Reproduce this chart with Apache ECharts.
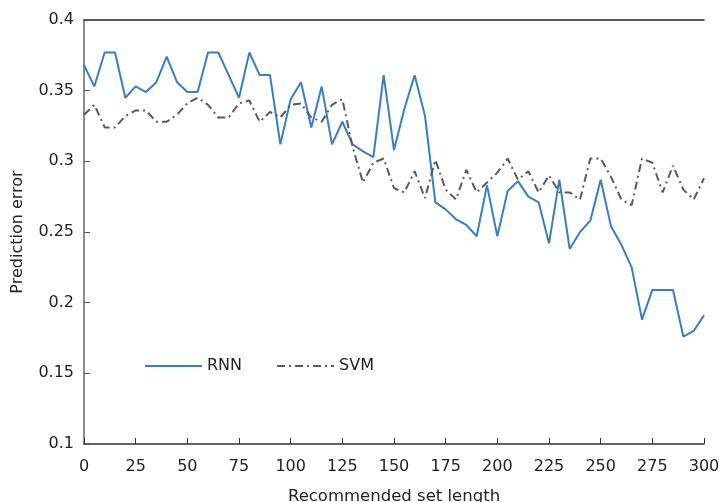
<!DOCTYPE html>
<html>
<head>
<meta charset="utf-8">
<script src="https://cdn.jsdelivr.net/npm/echarts@6/dist/echarts.min.js"></script>
<style>html,body{margin:0;padding:0;background:#fff}#c{width:719px;height:502px}</style>
</head>
<body>
<div id="c"></div>
<script>
const setLengths = [0,5,10,15,20,25,30,35,40,45,50,55,60,65,70,75,80,85,90,95,100,105,110,115,120,125,130,135,140,145,150,155,160,165,170,175,180,185,190,195,200,205,210,215,220,225,230,235,240,245,250,255,260,265,270,275,280,285,290,295,300];
const rnnError = [0.368,0.353,0.377,0.377,0.345,0.353,0.349,0.356,0.374,0.356,0.349,0.349,0.377,0.377,0.361,0.345,0.377,0.361,0.361,0.312,0.344,0.356,0.324,0.353,0.312,0.328,0.312,0.307,0.303,0.361,0.308,0.337,0.361,0.332,0.271,0.266,0.259,0.255,0.247,0.283,0.247,0.279,0.286,0.275,0.271,0.242,0.287,0.238,0.250,0.258,0.287,0.254,0.241,0.225,0.188,0.209,0.209,0.209,0.176,0.180,0.191];
const svmError = [0.333,0.340,0.324,0.324,0.332,0.336,0.336,0.328,0.328,0.333,0.341,0.345,0.340,0.331,0.331,0.341,0.343,0.328,0.335,0.331,0.340,0.341,0.331,0.328,0.340,0.344,0.310,0.285,0.299,0.302,0.281,0.278,0.293,0.274,0.301,0.280,0.273,0.294,0.278,0.285,0.292,0.302,0.287,0.293,0.278,0.290,0.278,0.278,0.273,0.302,0.302,0.289,0.273,0.269,0.302,0.299,0.278,0.297,0.280,0.273,0.288];
const seriesNames = ['RNN','SVM'];
const xName = 'Recommended set length';
const yName = 'Prediction error';

const font = '"DejaVu Sans", Verdana, sans-serif';
const chart = echarts.init(document.getElementById('c'), null, {renderer:'canvas'});
const pairs = arr => setLengths.map((x,i)=>[x, arr[i]]);
chart.setOption({
  animation:false,
  backgroundColor:'#fff',
  grid:{left:84,right:15,top:20,bottom:58,containLabel:false,outerBoundsMode:'none'},
  legend:{
    left:139, top:353, itemWidth:57, itemHeight:14, itemGap:34,
    itemStyle:{opacity:0},
    textStyle:{fontFamily:font,fontSize:16,color:'#222'},
    data:seriesNames
  },
  xAxis:[{
    type:'value', min:0, max:300, interval:25,
    name:xName, nameLocation:'middle', nameGap:44,
    nameTextStyle:{fontFamily:font,fontSize:16.5,color:'#222'},
    axisLine:{show:true,lineStyle:{color:'#333',width:1.5}},
    axisTick:{show:true,inside:true,length:6,lineStyle:{color:'#333'}},
    axisLabel:{fontFamily:font,fontSize:16,color:'#222',margin:15},
    splitLine:{show:false}
  },{
    type:'value', position:'top', min:0, max:300,
    axisLine:{show:true,lineStyle:{color:'#222',width:1.5}},
    axisTick:{show:false}, axisLabel:{show:false}, splitLine:{show:false}
  }],
  yAxis:[{
    type:'value', min:0.1, max:0.4, interval:0.05,
    name:yName, nameLocation:'middle', nameGap:58,
    nameTextStyle:{fontFamily:font,fontSize:16,color:'#222'},
    axisLine:{show:true,lineStyle:{color:'#777',width:1.5}},
    axisTick:{show:true,inside:true,length:6,lineStyle:{color:'#555'}},
    axisLabel:{fontFamily:font,fontSize:16,color:'#222',margin:10},
    splitLine:{show:false}
  },{
    type:'value', position:'right', min:0.1, max:0.4,
    axisLine:{show:true,lineStyle:{color:'#888',width:1.5}},
    axisTick:{show:false}, axisLabel:{show:false}, splitLine:{show:false}
  }],
  series:[{
    name:seriesNames[0], type:'line', data:pairs(rnnError), symbol:'none',
    lineStyle:{color:'#3a7ec2',width:2}, itemStyle:{color:'#3a7ec2'}
  },{
    name:seriesNames[1], type:'line', data:pairs(svmError), symbol:'none',
    lineStyle:{color:'#5a5a5a',width:2,type:[8,4,2,4]}, itemStyle:{color:'#5a5a5a'}
  }]
});
</script>
</body>
</html>
